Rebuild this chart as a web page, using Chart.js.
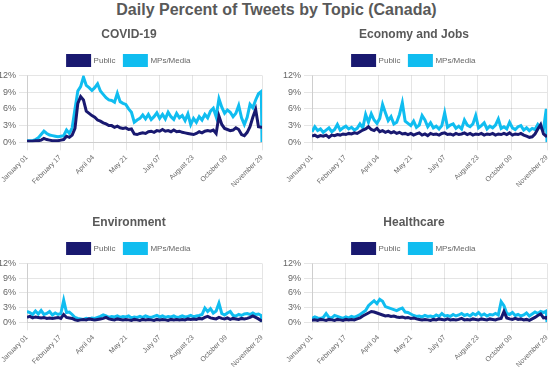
<!DOCTYPE html>
<html>
<head>
<meta charset="utf-8">
<script src="https://cdn.jsdelivr.net/npm/chart.js@4.4.1/dist/chart.umd.min.js"></script>
<style>
  body { margin: 0; background: #fff; font-family: "Liberation Sans", Arial, sans-serif; }
  #wrap { position: relative; width: 553px; height: 375px; overflow: hidden; }
  #title { position: absolute; left: 0; top: 1px; width: 553px; text-align: center;
           font-size: 16px; font-weight: bold; color: #595959; }
  .box { position: absolute; }
</style>
</head>
<body>
<div id="wrap">
  <div id="title">Daily Percent of Tweets by Topic (Canada)</div>
  <div class="box" style="left:-7px;top:19px;width:272px;height:173px"><canvas id="c0"></canvas></div>
  <div class="box" style="left:278px;top:19px;width:272px;height:173px"><canvas id="c1"></canvas></div>
  <div class="box" style="left:-7px;top:207px;width:272px;height:165px"><canvas id="c2"></canvas></div>
  <div class="box" style="left:278px;top:207px;width:272px;height:165px"><canvas id="c3"></canvas></div>
</div>
<script>
// day index since Jan 1 (sampled every 4 days, plus the last day)
const days = [0,4,8,12,16,20,24,28,32,36,40,44,48,52,56,60,64,68,72,76,80,84,88,92,96,100,
  104,108,112,116,120,124,128,132,136,140,144,148,152,156,160,164,168,172,176,180,184,188,192,196,
  200,204,208,212,216,220,224,228,232,236,240,244,248,252,256,260,264,268,272,276,280,284,288,292,
  296,300,304,308,312,316,320,324,328,332,333];

const tickDays = [0, 47, 94, 141, 188, 235, 282, 333];
const tickLabels = ["January 01", "February 17", "April 04", "May 21", "July 07",
  "August 23", "October 09", "November 29"];
const yTicks = [0, 3, 6, 9, 12];

const topics = ["COVID-19", "Economy and Jobs", "Environment", "Healthcare"];
const seriesNames = ["Public", "MPs/Media"];

const covidPublic = [0.2,0.2,0.2,0.3,0.3,0.4,0.7,0.5,0.4,0.3,0.3,0.3,0.4,0.5,1.1,0.9,1.3,2.5,7.0,8.2,
  7.6,5.6,5.2,4.8,4.5,4.0,3.8,3.5,3.3,3.0,3.0,2.7,2.9,2.6,2.5,2.6,2.3,2.4,1.5,1.4,
  1.6,1.7,1.6,1.9,2.0,1.8,2.1,2.0,2.3,2.0,2.1,1.9,2.2,1.9,2.0,1.8,1.7,1.6,1.5,1.4,
  1.6,1.9,1.7,2.0,2.1,2.0,2.2,1.6,4.7,3.2,2.5,2.3,2.1,2.2,2.6,2.3,1.4,1.2,1.8,2.8,
  4.5,5.9,2.8,2.7,2.7];
const covidMedia = [0.3,0.3,0.3,0.5,0.8,1.4,2.0,1.6,1.3,1.2,1.1,1.0,1.1,1.2,2.2,1.6,2.6,6.0,9.2,10.0,
  11.7,10.2,9.8,9.3,9.8,10.5,9.2,8.6,8.0,7.6,7.5,7.2,8.8,7.3,7.0,6.8,6.0,5.4,3.6,4.0,
  4.3,4.9,4.2,5.0,4.1,4.6,5.3,4.3,5.0,4.2,5.4,4.6,4.1,5.2,4.4,4.8,3.9,5.1,3.2,4.3,
  3.6,4.6,4.0,5.0,4.4,5.6,6.1,4.6,7.8,6.3,5.2,5.8,5.4,4.6,5.2,6.6,4.4,3.2,4.5,6.8,
  6.2,7.6,8.7,9.1,0];

const economyPublic = [1.1,1.3,1.0,1.2,1.1,1.3,0.9,1.3,1.2,1.4,1.3,1.5,1.4,1.6,1.5,1.7,1.6,1.9,2.2,2.4,
  2.8,2.3,2.1,2.5,1.9,2.1,1.8,2.0,1.7,1.9,1.6,1.8,1.5,1.6,1.4,1.6,1.3,1.5,1.7,1.3,
  1.5,1.2,1.6,1.4,1.5,1.3,1.6,1.7,1.4,1.5,1.3,1.6,1.4,1.5,1.7,1.4,1.6,1.3,1.5,1.4,
  1.6,1.3,1.5,1.4,1.6,1.3,1.5,1.4,1.6,1.4,1.7,1.3,1.5,1.4,1.6,1.3,1.1,0.9,1.0,1.5,
  2.4,3.2,1.5,1.1,1.0];
const economyMedia = [1.9,2.8,2.1,2.4,1.8,2.2,2.6,1.9,2.3,3.2,2.2,2.6,2.9,2.4,2.7,2.2,2.5,3.3,2.6,5.0,
  3.6,5.1,4.0,3.4,4.3,6.8,5.3,3.9,4.6,3.3,3.6,5.0,7.1,3.8,3.4,3.0,3.8,2.7,3.1,4.8,
  4.0,2.8,3.5,2.6,2.9,2.4,3.0,5.3,2.7,3.1,3.3,2.5,2.9,2.4,4.0,3.1,2.8,3.3,4.8,2.6,
  3.0,3.5,2.4,2.9,2.6,3.1,4.2,2.5,2.8,2.4,3.6,2.6,2.3,2.8,3.0,2.2,2.6,2.1,2.5,2.3,
  3.2,2.6,2.3,6.0,0];

const environmentPublic = [1.0,1.2,0.9,1.1,1.0,0.9,1.0,0.8,0.9,0.8,0.9,1.0,0.8,1.6,1.0,0.9,0.8,0.5,0.4,0.5,
  0.6,0.5,0.7,0.6,0.5,0.6,0.7,0.8,1.0,0.7,0.6,0.5,0.7,0.6,0.5,0.6,0.5,0.4,0.6,0.5,
  0.4,0.6,0.5,0.6,0.5,0.4,0.6,0.5,0.6,0.5,0.4,0.6,0.5,0.6,0.5,0.6,0.5,0.7,0.6,0.7,
  0.6,0.8,0.7,1.0,1.2,0.9,0.8,0.7,1.0,0.8,0.7,0.9,0.6,0.8,0.7,0.6,0.8,0.7,0.8,1.0,
  1.3,1.0,0.7,0.3,0.2];
const environmentMedia = [2.2,2.0,1.6,2.3,1.7,2.4,1.6,1.8,2.2,1.5,1.9,1.6,1.8,4.5,2.0,2.1,1.6,1.0,0.8,0.7,
  0.6,0.8,0.7,0.9,0.8,1.0,1.2,1.5,1.3,1.0,1.2,1.1,1.3,1.0,1.2,1.1,1.3,0.9,1.1,1.0,
  1.2,1.0,1.3,1.1,1.0,1.2,1.4,1.1,1.3,1.0,1.2,1.1,1.3,1.0,1.1,1.3,1.1,1.2,1.4,1.1,
  1.3,1.4,1.6,2.9,2.2,2.8,1.9,2.3,3.9,1.8,1.5,1.9,2.2,1.4,1.3,1.6,1.4,1.7,1.8,1.6,
  1.9,1.6,1.7,1.4,0];

const healthcarePublic = [0.4,0.5,0.4,0.6,0.5,0.4,0.6,0.5,0.4,0.6,0.5,0.4,0.6,0.5,0.6,0.5,0.7,0.9,1.3,1.6,
  1.9,2.2,2.1,1.9,1.7,1.5,1.3,1.4,1.2,1.3,1.1,1.0,1.1,0.9,1.0,0.8,0.9,0.7,0.6,0.5,
  0.6,0.5,0.4,0.6,0.5,0.7,0.6,0.5,0.7,0.5,0.6,0.5,0.6,0.8,0.5,0.6,0.5,0.7,0.6,0.5,
  0.7,0.6,0.5,0.7,0.6,0.5,0.7,0.8,2.2,0.9,0.7,0.6,0.8,0.6,0.7,0.5,0.6,0.4,0.7,1.0,
  1.4,1.7,0.9,1.0,0.6];
const healthcareMedia = [0.8,1.1,0.9,0.8,1.0,1.8,1.0,0.9,1.4,1.2,1.0,0.8,1.1,0.9,1.2,1.0,1.3,1.6,2.0,2.4,
  3.4,3.9,4.4,3.8,4.7,4.3,3.2,3.0,2.8,2.6,2.4,2.7,2.9,2.1,2.0,1.7,1.4,1.2,1.3,1.1,
  1.4,1.2,1.3,1.1,1.5,1.2,1.8,1.3,1.4,1.2,1.6,1.3,1.5,1.8,1.4,1.6,1.3,1.8,1.5,2.0,
  1.4,1.7,1.3,1.6,1.5,1.8,1.5,4.2,3.4,1.8,1.6,2.0,1.4,1.6,1.3,1.5,1.9,1.3,1.7,2.1,
  1.8,2.2,2.0,2.3,0];

const publicSeries = [covidPublic, economyPublic, environmentPublic, healthcarePublic];
const mediaSeries = [covidMedia, economyMedia, environmentMedia, healthcareMedia];

const navy = "#191970";
const cyan = "#10bdf0";
const grey = "#666";
const gridColor = "rgba(0,0,0,0.1)";

function points(values) {
  return days.map((d, i) => ({ x: d, y: values[i] }));
}

function makeChart(id, idx) {
  const ctx = document.getElementById(id).getContext("2d");
  return new Chart(ctx, {
    type: "line",
    data: {
      datasets: [
        {
          label: seriesNames[0],
          data: points(publicSeries[idx]),
          borderColor: navy,
          backgroundColor: navy,
          borderWidth: 3,
          pointRadius: 0,
          tension: 0,
          fill: false,
        },
        {
          label: seriesNames[1],
          data: points(mediaSeries[idx]),
          borderColor: cyan,
          backgroundColor: cyan,
          borderWidth: 3,
          pointRadius: 0,
          tension: 0,
          fill: false,
        },
      ],
    },
    options: {
      responsive: true,
      maintainAspectRatio: false,
      animation: false,
      layout: { padding: { left: 0, right: 0, top: 0, bottom: 0 } },
      plugins: {
        title: {
          display: true,
          text: topics[idx],
          color: "#595959",
          font: { family: "Liberation Sans", size: 12, weight: "bold" },
          padding: { top: 8, bottom: 5 },
        },
        legend: {
          position: "top",
          labels: {
            boxWidth: 22,
            boxHeight: 10,
            padding: 9,
            color: grey,
            font: { family: "Liberation Sans", size: 8 },
          },
        },
        tooltip: { enabled: false },
      },
      scales: {
        x: {
          type: "linear",
          min: 0,
          max: 333,
          afterBuildTicks: (axis) => {
            axis.ticks = tickDays.map((v) => ({ value: v }));
          },
          afterFit: (axis) => {
            axis.paddingRight = 3;
          },
          ticks: {
            autoSkip: false,
            maxRotation: 45,
            minRotation: 45,
            color: grey,
            font: { family: "Liberation Sans", size: 7 },
            callback: (value, index) => tickLabels[index],
          },
          grid: { color: gridColor },
          border: { color: gridColor },
        },
        y: {
          min: 0,
          max: 12,
          afterBuildTicks: (axis) => {
            axis.ticks = yTicks.map((v) => ({ value: v }));
          },
          afterFit: (axis) => {
            axis.width = 34;
          },
          ticks: {
            autoSkip: false,
            color: grey,
            font: { family: "Liberation Sans", size: 9 },
            callback: (value) => value + "%",
          },
          grid: { color: gridColor },
          border: { color: gridColor },
        },
      },
    },
  });
}

makeChart("c0", 0);
makeChart("c1", 1);
makeChart("c2", 2);
makeChart("c3", 3);
</script>
</body>
</html>
